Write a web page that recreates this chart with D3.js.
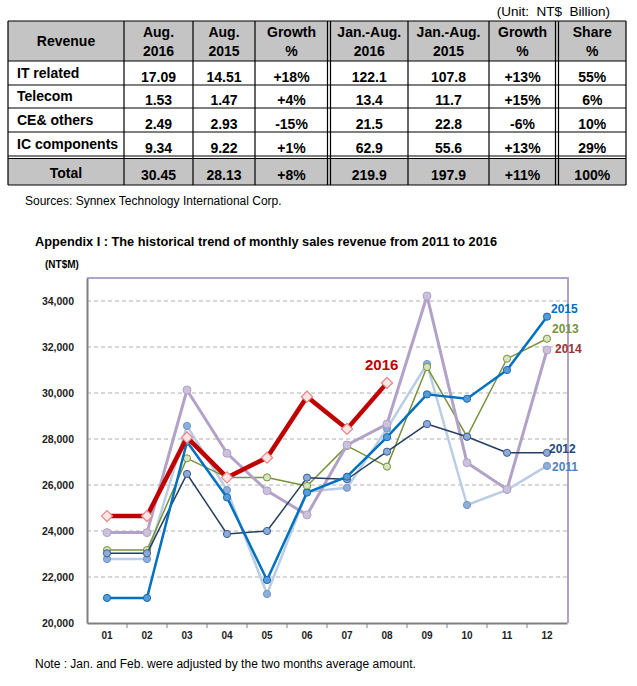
<!DOCTYPE html>
<html>
<head>
<meta charset="utf-8">
<script src="https://cdn.jsdelivr.net/npm/d3@7"></script>
<style>
  body { margin: 0; background: #fff; }
  svg { display: block; font-family: Arial, 'Liberation Sans', sans-serif; }
</style>
</head>
<body>
<svg id="page" width="637" height="686"></svg>
<script>

//============================================================
// Data
//------------------------------------------------------------

var headerLines = [['Revenue'], ['Aug.', '2016'], ['Aug.', '2015'], ['Growth', '%'],
                   ['Jan.-Aug.', '2016'], ['Jan.-Aug.', '2015'], ['Growth', '%'], ['Share', '%']];
var rowLabels = ['IT related', 'Telecom', 'CE& others', 'IC components', 'Total'];
var aug2016   = ['17.09', '1.53', '2.49', '9.34', '30.45'];
var aug2015   = ['14.51', '1.47', '2.93', '9.22', '28.13'];
var augGrowth = ['+18%', '+4%', '-15%', '+1%', '+8%'];
var ytd2016   = ['122.1', '13.4', '21.5', '62.9', '219.9'];
var ytd2015   = ['107.8', '11.7', '22.8', '55.6', '197.9'];
var ytdGrowth = ['+13%', '+15%', '-6%', '+13%', '+11%'];
var shares    = ['55%', '6%', '10%', '29%', '100%'];

var months = ['01', '02', '03', '04', '05', '06', '07', '08', '09', '10', '11', '12'];
var yTicks = [20000, 22000, 24000, 26000, 28000, 30000, 32000, 34000];

var rev2011 = [22780, 22780, 28570, 25780, 21260, 25710, 25880, 28450, 31260, 25130, 25790, 26830];
var rev2012 = [23030, 23030, 26480, 23870, 24000, 26320, 26250, 27450, 28650, 28100, 27400, 27400];
var rev2013 = [23170, 23170, 27160, 26330, 26330, 25960, 27700, 26800, 31130, 28100, 31490, 32360];
var rev2014 = [23930, 23930, 30130, 27380, 25750, 24700, 27740, 28650, 34220, 26970, 25810, 31870];
var rev2015 = [21090, 21090, 27880, 25460, 21870, 25670, 26360, 28080, 29940, 29750, 31000, 33320];
var rev2016 = [24650, 24650, 28070, 26330, 27190, 29840, 28440, 30440];

//============================================================

var svg = d3.select('#page');

//------------------------------------------------------------
// Summary table

var colEdges = [8, 124, 193, 255, 328, 408, 489, 556, 626];
var rowEdges = [61, 85, 108, 132, 156];
var tableTop = 21, totalTop = 158.5, tableBottom = 185;

var columns = [rowLabels, aug2016, aug2015, augGrowth, ytd2016, ytd2015, ytdGrowth, shares];

var table = svg.append('g').attr('class', 'summary-table');

table.append('rect')
    .attr('x', colEdges[0]).attr('y', tableTop)
    .attr('width', colEdges[8] - colEdges[0]).attr('height', rowEdges[0] - tableTop)
    .attr('fill', '#c4c4c4');
table.append('rect')
    .attr('x', colEdges[0]).attr('y', totalTop)
    .attr('width', colEdges[8] - colEdges[0]).attr('height', tableBottom - totalTop)
    .attr('fill', '#c4c4c4');

var hLines = [tableTop].concat(rowEdges, [totalTop, tableBottom]);
table.selectAll('line.h')
    .data(hLines)
  .enter().append('line')
    .attr('class', 'h')
    .attr('x1', colEdges[0]).attr('x2', colEdges[8])
    .attr('y1', function (d) { return d; }).attr('y2', function (d) { return d; })
    .attr('stroke', '#000').attr('stroke-width', 1.2);

// double rules after the two growth columns
var vLines = colEdges.slice();
vLines.push(colEdges[4] + 2.5, colEdges[7] + 2.5);
vLines[4] -= 0.5; vLines[7] -= 0.5;
table.selectAll('line.v')
    .data(vLines)
  .enter().append('line')
    .attr('class', 'v')
    .attr('x1', function (d) { return d; }).attr('x2', function (d) { return d; })
    .attr('y1', tableTop).attr('y2', tableBottom)
    .attr('stroke', '#000').attr('stroke-width', 1.2);

function colCenter(i) {
  var l = colEdges[i] + (i === 4 || i === 7 ? 2.5 : 0);
  return (l + colEdges[i + 1]) / 2;
}

// header
headerLines.forEach(function (lines, i) {
  var t = table.append('text')
      .attr('x', colCenter(i))
      .attr('text-anchor', 'middle')
      .attr('font-size', 14).attr('font-weight', 'bold');
  if (lines.length === 1) {
    t.attr('y', 46).text(lines[0]);
  } else {
    t.append('tspan').attr('x', colCenter(i)).attr('y', 36.5).text(lines[0]);
    t.append('tspan').attr('x', colCenter(i)).attr('y', 55.5).text(lines[1]);
  }
});

// body rows
columns.forEach(function (col, c) {
  table.selectAll('text.c' + c)
      .data(col)
    .enter().append('text')
      .attr('class', 'c' + c)
      .attr('font-size', 14).attr('font-weight', 'bold')
      .attr('text-anchor', function (d, r) { return (c === 0 && r < 4) ? 'start' : 'middle'; })
      .attr('x', function (d, r) { return (c === 0 && r < 4) ? colEdges[0] + 9 : colCenter(c); })
      .attr('y', function (d, r) {
        var bottom = r < 4 ? rowEdges[r + 1] : tableBottom;
        if (r === 4) { return c === 0 ? 178 : 180; }
        return c === 0 ? bottom - 7.5 : bottom - 3.5;
      })
      .text(function (d) { return d; });
});

svg.append('text')
    .attr('x', 610).attr('y', 16)
    .attr('text-anchor', 'end')
    .attr('font-size', 13.5)
    .style('white-space', 'pre')
    .text('(Unit:  NT$  Billion)');

svg.append('text')
    .attr('x', 25).attr('y', 205)
    .attr('font-size', 12)
    .text('Sources: Synnex Technology International Corp.');

//------------------------------------------------------------
// Trend chart

svg.append('text')
    .attr('x', 35).attr('y', 246)
    .attr('font-size', 13).attr('font-weight', 'bold')
    .attr('textLength', 462).attr('lengthAdjust', 'spacingAndGlyphs')
    .text('Appendix I : The historical trend of monthly sales revenue from 2011 to 2016');

svg.append('text')
    .attr('x', 45).attr('y', 268)
    .attr('font-size', 10).attr('font-weight', 'bold')
    .text('(NT$M)');

var x = d3.scaleBand().domain(months).range([87, 567]);
var y = d3.scaleLinear().domain([20000, 35000]).range([623, 278]);
var bw = x.bandwidth();

var chart = svg.append('g').attr('class', 'trend');

// gridlines
chart.selectAll('line.grid')
    .data(yTicks.slice(1))
  .enter().append('line')
    .attr('class', 'grid')
    .attr('x1', 87).attr('x2', 567)
    .attr('y1', function (d) { return y(d); }).attr('y2', function (d) { return y(d); })
    .attr('stroke', '#b0b0b0').attr('stroke-width', 1)
    .attr('stroke-dasharray', '4,3');

// plot frame (top/right)
chart.append('path')
    .attr('d', 'M87,' + y(35000) + 'H' + (x.range()[1] + 1) + 'V' + y(20000))
    .attr('fill', 'none').attr('stroke', '#b3a2c7').attr('stroke-width', 2);

var yAxis = chart.append('g')
    .attr('transform', 'translate(87,0)')
    .call(d3.axisLeft(y).tickValues(yTicks).tickSize(0).tickPadding(13).tickFormat(d3.format(',')));
yAxis.select('.domain').attr('stroke', '#808080').attr('stroke-width', 2);
yAxis.selectAll('text').attr('font-size', 10.5).attr('font-weight', 'bold').attr('fill', '#222')
    .attr('font-family', null);

var xAxis = chart.append('g')
    .attr('transform', 'translate(0,' + y(20000) + ')')
    .call(d3.axisBottom(x).tickSize(0).tickPadding(9));
xAxis.select('.domain').attr('stroke', '#808080').attr('stroke-width', 2);
xAxis.selectAll('text').attr('font-size', 10).attr('font-weight', 'bold').attr('fill', '#222')
    .attr('font-family', null);
xAxis.selectAll('line.sep')
    .data(months.slice(0, 11))
  .enter().append('line')
    .attr('class', 'sep')
    .attr('x1', function (d) { return x(d) + bw; }).attr('x2', function (d) { return x(d) + bw; })
    .attr('y1', 0).attr('y2', 5)
    .attr('stroke', '#808080').attr('stroke-width', 1);

var line = d3.line()
    .x(function (d, i) { return x(months[i]) + bw / 2; })
    .y(function (d) { return y(d); });

var series = [
  {key: '2011', values: rev2011, line: '#b9cde5', width: 2.5, fill: '#8eaedb', stroke: '#7096c8', r: 3.6},
  {key: '2013', values: rev2013, line: '#77933c', width: 1.5, fill: '#d7e4bd', stroke: '#77933c', r: 3.6},
  {key: '2014', values: rev2014, line: '#b3a2c7', width: 3, fill: '#ccc1da', stroke: '#b3a2c7', r: 4},
  {key: '2012', values: rev2012, line: '#243f60', width: 1.5, fill: '#8eaadb', stroke: '#3f5f8f', r: 3.6},
  {key: '2015', values: rev2015, line: '#0070c0', width: 2.5, fill: '#5b9bd5', stroke: '#0f6cb8', r: 3.6}
];

series.forEach(function (s) {
  var g = chart.append('g').attr('class', 'series s' + s.key);
  g.append('path')
      .attr('d', line(s.values))
      .attr('fill', 'none').attr('stroke', s.line).attr('stroke-width', s.width)
      .attr('stroke-linejoin', 'round');
  g.selectAll('circle')
      .data(s.values)
    .enter().append('circle')
      .attr('cx', function (d, i) { return x(months[i]) + bw / 2; })
      .attr('cy', function (d) { return y(d); })
      .attr('r', s.r)
      .attr('fill', s.fill).attr('stroke', s.stroke).attr('stroke-width', 1);
});

// 2016 on top, diamond markers
var g16 = chart.append('g').attr('class', 'series s2016');
g16.append('path')
    .attr('d', line(rev2016))
    .attr('fill', 'none').attr('stroke', '#c00000').attr('stroke-width', 4.5)
    .attr('stroke-linejoin', 'miter');
g16.selectAll('path.marker')
    .data(rev2016)
  .enter().append('path')
    .attr('class', 'marker')
    .attr('d', d3.symbol(d3.symbolSquare, 62))
    .attr('transform', function (d, i) {
      return 'translate(' + (x(months[i]) + bw / 2) + ',' + y(d) + ') rotate(45)';
    })
    .attr('fill', '#fbe6e6').attr('stroke', '#e58585').attr('stroke-width', 1.2);

// series labels
var seriesLabels = [
  {text: '2015', x: 551, y: 313, color: '#0070c0', size: 12},
  {text: '2013', x: 552, y: 333, color: '#77933c', size: 12},
  {text: '2014', x: 555, y: 353, color: '#953735', size: 12},
  {text: '2012', x: 549, y: 453, color: '#1f497d', size: 12},
  {text: '2011', x: 552, y: 471, color: '#4f81bd', size: 12},
  {text: '2016', x: 365, y: 370, color: '#c00000', size: 15}
];
chart.selectAll('text.slabel')
    .data(seriesLabels)
  .enter().append('text')
    .attr('class', 'slabel')
    .attr('x', function (d) { return d.x; })
    .attr('y', function (d) { return d.y; })
    .attr('font-size', function (d) { return d.size; })
    .attr('font-weight', 'bold')
    .attr('fill', function (d) { return d.color; })
    .text(function (d) { return d.text; });

svg.append('text')
    .attr('x', 35).attr('y', 668)
    .attr('font-size', 12)
    .text('Note : Jan. and Feb. were adjusted by the two months average amount.');

</script>
</body>
</html>
